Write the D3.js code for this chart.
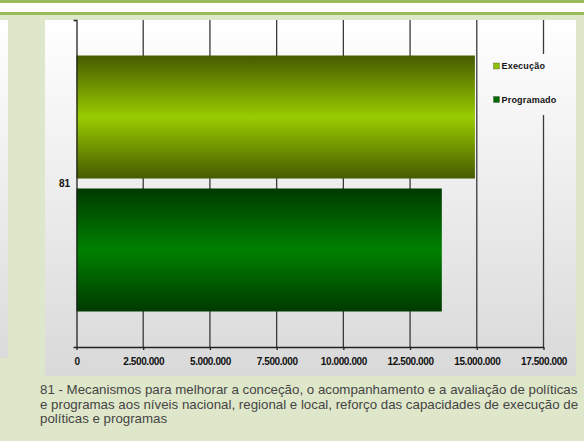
<!DOCTYPE html>
<html>
<head>
<meta charset="utf-8">
<script src="https://cdn.jsdelivr.net/npm/d3@7"></script>
<style>
  html, body { margin: 0; padding: 0; background: #dfe7ca; }
  svg { display: block; }
  text { font-family: "Liberation Sans", Arial, sans-serif; }
</style>
</head>
<body>
<svg id="chart" width="584" height="441"></svg>
<script>
// Data
const categories = ["81"];
const seriesNames = ["Execução", "Programado"];
const execucao = [14930000];
const programado = [13690000];
const tickValues = [0, 2500000, 5000000, 7500000, 10000000, 12500000, 15000000, 17500000];
const captionLines = [
  "81 - Mecanismos para melhorar a conceção, o acompanhamento e a avaliação de políticas",
  "e programas aos níveis nacional, regional e local, reforço das capacidades de execução de",
  "políticas e programas"
];

const values = { "Execução": execucao, "Programado": programado };

const svg = d3.select("#chart");
const W = 584, H = 441;

// Page decoration: band lines at the top
svg.append("rect").attr("x", 0).attr("y", 0).attr("width", W).attr("height", H).attr("fill", "#dfe7ca");
svg.append("rect").attr("x", 0).attr("y", 0).attr("width", W).attr("height", 3).attr("fill", "#9bbb59");
svg.append("rect").attr("x", 0).attr("y", 3).attr("width", W).attr("height", 9).attr("fill", "#ffffff");
svg.append("rect").attr("x", 0).attr("y", 12).attr("width", W).attr("height", 3).attr("fill", "#9bbb59");

const defs = svg.append("defs");

// Chart area background: white fading to light grey
const bg = defs.append("linearGradient").attr("id", "bgGrad")
  .attr("gradientUnits", "userSpaceOnUse")
  .attr("x1", 0).attr("y1", 20).attr("x2", 0).attr("y2", 376);
bg.append("stop").attr("offset", "0%").attr("stop-color", "#ffffff");
bg.append("stop").attr("offset", "100%").attr("stop-color", "#d9d9d9");

// Left side strip
svg.append("rect").attr("x", 0).attr("y", 20).attr("width", 8).attr("height", 338).attr("fill", "url(#bgGrad)");
// Chart panel
svg.append("rect").attr("x", 45).attr("y", 20).attr("width", 531).attr("height", 356).attr("fill", "url(#bgGrad)");

// Bar gradients: dark edges, bright centre
function barGradient(id, dark, bright) {
  const g = defs.append("linearGradient").attr("id", id)
    .attr("x1", 0).attr("y1", 0).attr("x2", 0).attr("y2", 1);
  g.append("stop").attr("offset", "0%").attr("stop-color", dark);
  g.append("stop").attr("offset", "50%").attr("stop-color", bright);
  g.append("stop").attr("offset", "100%").attr("stop-color", dark);
}
barGradient("gExec", "#465a00", "#99cc00");
barGradient("gProg", "#003a00", "#008000");
const fills = { "Execução": "url(#gExec)", "Programado": "url(#gProg)" };
const swatch = { "Execução": "#8fbf00", "Programado": "#006a00" };

// Scales
const plot = { left: 76.5, right: 543.5, top: 20, bottom: 347 };
const x = d3.scaleLinear().domain([0, 17500000]).range([plot.left, plot.right]);
const y = d3.scaleBand().domain(categories).range([plot.top, plot.bottom]);
const ySeries = d3.scaleBand().domain(seriesNames)
  .range([0, y.bandwidth()]).paddingInner(0.075).paddingOuter(0.267);

const pt = d3.formatLocale({ decimal: ",", thousands: ".", grouping: [3], currency: ["", ""] }).format(",d");

// Vertical gridlines
svg.append("g").selectAll("line")
  .data(tickValues.slice(1))
  .join("line")
  .attr("x1", d => x(d)).attr("x2", d => x(d))
  .attr("y1", plot.top).attr("y2", plot.bottom)
  .attr("stroke", "#3a3a3a").attr("stroke-width", 1.3);

// Legend box (covers gridline behind it)
svg.append("rect").attr("x", 490).attr("y", 54).attr("width", 86).attr("height", 61)
  .attr("fill", "url(#bgGrad)");

// Bars
const bars = svg.append("g");
categories.forEach((c, i) => {
  bars.selectAll(null)
    .data(seriesNames)
    .join("rect")
    .attr("x", x(0))
    .attr("y", s => y(c) + ySeries(s))
    .attr("width", s => x(values[s][i]) - x(0))
    .attr("height", ySeries.bandwidth())
    .attr("fill", s => fills[s]);
});

// Axes
const xAxis = svg.append("g").attr("transform", `translate(0,${plot.bottom})`)
  .call(d3.axisBottom(x).tickValues(tickValues).tickFormat(pt).tickSize(3).tickSizeOuter(0).tickPadding(7.5));
xAxis.select(".domain").attr("stroke", "#222").attr("stroke-width", 1.3);
xAxis.selectAll(".tick line").attr("stroke", "#222").attr("stroke-width", 1.3);
xAxis.selectAll("text").attr("font-size", 10).attr("font-weight", "bold").attr("fill", "#111")
  .attr("letter-spacing", -0.4)
  .attr("font-family", "'Liberation Sans', Arial, sans-serif");

const yAxis = svg.append("g").attr("transform", `translate(${plot.left},0)`)
  .call(d3.axisLeft(y).tickSizeInner(0).tickSizeOuter(3).tickPadding(6.5));
yAxis.select(".domain").attr("stroke", "#222").attr("stroke-width", 1.3);
yAxis.selectAll("text").attr("font-size", 10).attr("font-weight", "bold").attr("fill", "#111")
  .attr("font-family", "'Liberation Sans', Arial, sans-serif");

// Legend
const legend = svg.append("g");
const legY = { "Execução": 66, "Programado": 99.5 };
seriesNames.forEach(s => {
  legend.append("rect").attr("x", 493.5).attr("y", legY[s] - 3).attr("width", 6).attr("height", 6)
    .attr("fill", swatch[s]).attr("stroke", "#333").attr("stroke-width", 0.3);
  legend.append("text").attr("x", 501.5).attr("y", legY[s]).attr("dy", "0.35em")
    .attr("font-size", 9).attr("font-weight", "bold").attr("letter-spacing", 0.2)
    .attr("fill", "#111").text(s);
});

// Caption
const cap = svg.append("text").attr("x", 40).attr("y", 394)
  .attr("font-size", 13.3).attr("fill", "#444");
captionLines.forEach((line, i) => {
  cap.append("tspan").attr("x", 40).attr("y", 394 + i * 14.5).text(line);
});
</script>
</body>
</html>
